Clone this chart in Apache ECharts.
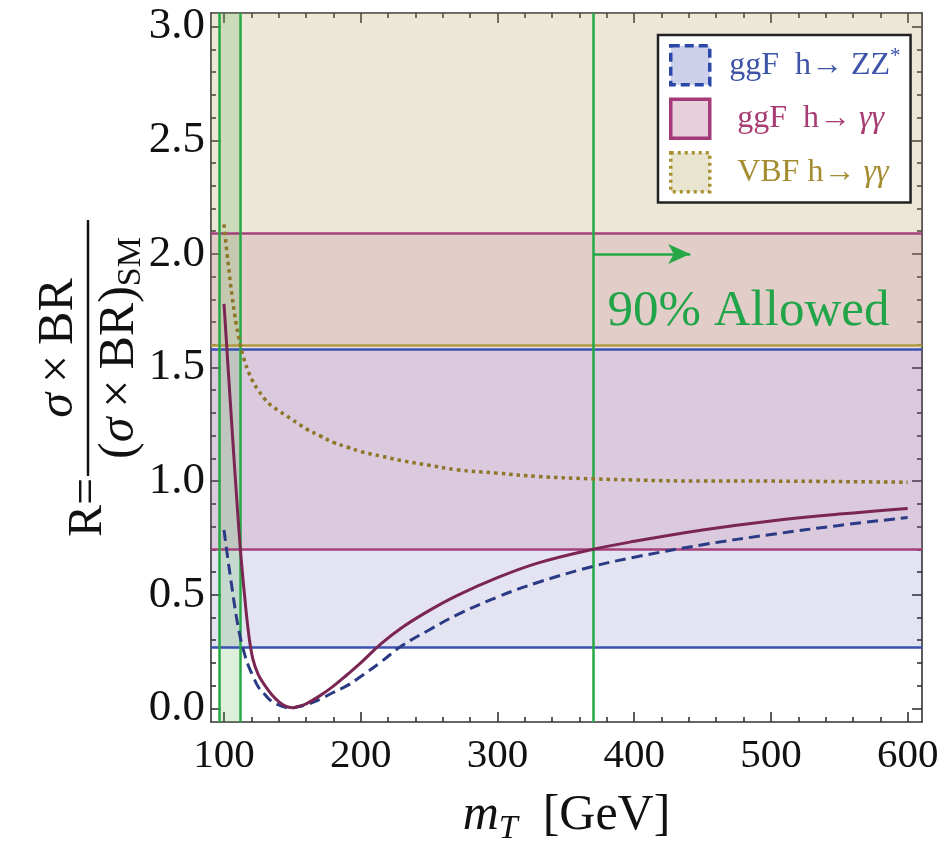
<!DOCTYPE html>
<html>
<head>
<meta charset="utf-8">
<script src="https://cdn.jsdelivr.net/npm/echarts@6/dist/echarts.min.js"></script>
<style>
html,body{margin:0;padding:0;background:#fff;}
#chart{width:951px;height:851px;}
</style>
</head>
<body>
<div id="chart"></div>
<script>
// ---------- data ----------
const mT = [100, 103, 106, 109, 112, 115, 118, 121, 125, 130, 135, 140, 145, 150, 155, 160, 170, 180, 190, 200, 215, 230, 250, 270, 300, 330, 370, 400, 450, 500, 550, 600];
const R_ggF_ZZ = [0.785, 0.65, 0.525, 0.405, 0.31, 0.24, 0.185, 0.145, 0.095, 0.06, 0.03, 0.015, 0.005, 0.003, 0.008, 0.015, 0.04, 0.07, 0.10, 0.14, 0.205, 0.275, 0.345, 0.41, 0.49, 0.555, 0.625, 0.665, 0.72, 0.765, 0.805, 0.84];
const R_ggF_AA = [1.78, 1.50, 1.22, 0.95, 0.70, 0.50, 0.33, 0.22, 0.15, 0.10, 0.06, 0.03, 0.01, 0.003, 0.01, 0.02, 0.055, 0.098, 0.148, 0.20, 0.285, 0.355, 0.43, 0.495, 0.575, 0.64, 0.70, 0.735, 0.785, 0.825, 0.855, 0.88];
const R_VBF_AA = [2.13, 1.96, 1.81, 1.69, 1.60, 1.53, 1.48, 1.44, 1.40, 1.36, 1.33, 1.31, 1.29, 1.27, 1.25, 1.23, 1.20, 1.17, 1.15, 1.13, 1.11, 1.09, 1.07, 1.05, 1.035, 1.02, 1.01, 1.005, 1.0, 1.0, 0.998, 0.995];

const xMin = 90.5, xMax = 610.5, yMin = -0.06, yMax = 3.06;
const xMajor = [100, 200, 300, 400, 500, 600];
const xMinor = [120, 140, 160, 180, 220, 240, 260, 280, 320, 340, 360, 380, 420, 440, 460, 480, 520, 540, 560, 580];
const yMajor = [0, 0.5, 1.0, 1.5, 2.0, 2.5, 3.0];
const yMinor = [0.1, 0.2, 0.3, 0.4, 0.6, 0.7, 0.8, 0.9, 1.1, 1.2, 1.3, 1.4, 1.6, 1.7, 1.8, 1.9, 2.1, 2.2, 2.3, 2.4, 2.6, 2.7, 2.8, 2.9];

const bandZZ = [0.27, 1.58];     // ggF h->ZZ*
const bandAA = [0.70, 2.09];     // ggF h->gamma gamma
const bandVBF = [1.60, yMax];    // VBF h->gamma gamma
const greenBand = [96.5, 112];
const allowedFrom = 370;
const arrowX = [370, 441];
const arrowY = 2.0;
const allowedLabel = [380.5, 1.745];

const names = ['ggF  h\u2192 ZZ*', 'ggF  h\u2192 \u03b3\u03b3', 'VBF h\u2192 \u03b3\u03b3'];

// ---------- helpers ----------
const pairs = (ys) => mT.map((x, i) => [x, ys[i]]);
const FONT = 'Liberation Serif';
const axisColor = '#333';

function xAx(pos, vals, len, labels) {
  return {
    type: 'value', position: pos, min: xMin, max: xMax, gridIndex: 0,
    axisLine: { show: labels !== null, onZero: false, lineStyle: { color: axisColor, width: 1.6 } },
    axisTick: { show: true, inside: true, length: len, customValues: vals, lineStyle: { color: axisColor, width: 1.6 } },
    axisLabel: labels ? { show: true, customValues: vals, fontFamily: FONT, fontSize: 41, color: '#111', margin: 14 } : { show: false },
    splitLine: { show: false }
  };
}
function yAx(pos, vals, len, labels) {
  return {
    type: 'value', position: pos, min: yMin, max: yMax, gridIndex: 0,
    axisLine: { show: labels !== null, onZero: false, lineStyle: { color: axisColor, width: 1.6 } },
    axisTick: { show: true, inside: true, length: len, customValues: vals, lineStyle: { color: axisColor, width: 1.6 } },
    axisLabel: labels ? { show: true, customValues: vals, fontFamily: FONT, fontSize: 45, color: '#111', margin: 6,
      formatter: v => v.toFixed(1) } : { show: false },
    splitLine: { show: false }
  };
}

const xAxes = [
  xAx('bottom', xMajor, 10, true),
  xAx('bottom', xMinor, 5, null),
  xAx('top', xMajor, 10, false),
  xAx('top', xMinor, 5, null)
];
xAxes[0].name = '{i|m}{sub|T}{r|\u2002[GeV]}';
xAxes[0].nameLocation = 'middle';
xAxes[0].nameGap = 64;
xAxes[0].nameTextStyle = {
  rich: {
    i: { fontFamily: FONT, fontStyle: 'italic', fontSize: 50, color: '#111', lineHeight: 60, verticalAlign: 'middle' },
    sub: { fontFamily: FONT, fontStyle: 'italic', fontSize: 34, color: '#111', lineHeight: 28, verticalAlign: 'bottom' },
    r: { fontFamily: FONT, fontSize: 50, color: '#111', lineHeight: 60, verticalAlign: 'middle' }
  }
};
const yAxes = [
  yAx('left', yMajor, 10, true),
  yAx('left', yMinor, 5, null),
  yAx('right', yMajor, 10, false),
  yAx('right', yMinor, 5, null)
];

const zzLine = '#3a50b2', aaLine = '#a4407a', vbfLine = '#b09a40', green = '#25a845';

const option = {
  backgroundColor: '#fff',
  animation: false,
  grid: { left: 211, right: 29, top: 13, bottom: 128, containLabel: false },
  xAxis: xAxes,
  yAxis: yAxes,
  legend: {
    orient: 'vertical', left: 658, top: 35,
    itemWidth: 39, itemHeight: 39, itemGap: 11,
    padding: [9, 10, 9, 11],
    backgroundColor: '#fff', borderColor: '#222', borderWidth: 2.5,
    textStyle: { fontFamily: FONT, fontSize: 32, lineHeight: 39,
      rich: { i: { fontFamily: FONT, fontStyle: 'italic', fontSize: 32, lineHeight: 39 }, sup: { fontFamily: FONT, fontSize: 21, verticalAlign: 'top', lineHeight: 34 } } },
    formatter: function (n) {
      if (n === names[0]) return ' \u2009ggF  h\u2192 ZZ{sup|*}';
      if (n === names[1]) return '\u2002\u2009ggF  h\u2192 {i|\u03b3\u03b3}';
      return '\u2002\u2009VBF h\u2192 {i|\u03b3\u03b3}';
    },
    data: [
      { name: names[0], icon: 'rect', itemStyle: { color: '#cdd0ea', borderColor: '#2b48a8', borderWidth: 3.5, borderType: [9, 5] }, textStyle: { color: '#3d54a8' } },
      { name: names[1], icon: 'rect', itemStyle: { color: '#e8cfdc', borderColor: '#a53a78', borderWidth: 3.5, borderType: 'solid' }, textStyle: { color: '#a83c72' } },
      { name: names[2], icon: 'rect', itemStyle: { color: '#e9e4cf', borderColor: '#a89030', borderWidth: 3.5, borderType: [3, 4] }, textStyle: { color: '#a48c30' } }
    ]
  },
  series: [
    // VBF band
    { type: 'line', name: 'bandVBF', data: [], z: 1, silent: true,
      markArea: { silent: true, itemStyle: { color: 'rgba(180,160,95,0.25)' }, data: [[{ yAxis: bandVBF[0] }, { yAxis: bandVBF[1] }]] },
      markLine: { silent: true, symbol: 'none', label: { show: false }, lineStyle: { color: vbfLine, width: 2.5, type: 'solid' }, data: [{ yAxis: bandVBF[0] }] } },
    // ZZ band
    { type: 'line', name: 'bandZZ', data: [], z: 1, silent: true,
      markArea: { silent: true, itemStyle: { color: 'rgba(70,70,170,0.15)' }, data: [[{ yAxis: bandZZ[0] }, { yAxis: bandZZ[1] }]] },
      markLine: { silent: true, symbol: 'none', label: { show: false }, lineStyle: { color: zzLine, width: 2.5, type: 'solid' }, data: [{ yAxis: bandZZ[0] }, { yAxis: bandZZ[1] }] } },
    // gamma gamma band
    { type: 'line', name: 'bandAA', data: [], z: 1, silent: true,
      markArea: { silent: true, itemStyle: { color: 'rgba(192,107,147,0.2)' }, data: [[{ yAxis: bandAA[0] }, { yAxis: bandAA[1] }]] },
      markLine: { silent: true, symbol: 'none', label: { show: false }, lineStyle: { color: aaLine, width: 2.5, type: 'solid' }, data: [{ yAxis: bandAA[0] }, { yAxis: bandAA[1] }] } },
    // allowed region (green)
    { type: 'line', name: 'allowed', data: [], z: 2, silent: true,
      markArea: { silent: true, itemStyle: { color: 'rgba(80,180,70,0.2)' }, data: [[{ xAxis: greenBand[0] }, { xAxis: greenBand[1] }]] },
      markLine: { silent: true, symbol: 'none', label: { show: false }, lineStyle: { color: green, width: 2.5, type: 'solid' },
        data: [
          { xAxis: greenBand[0] }, { xAxis: greenBand[1] }, { xAxis: allowedFrom },
          [{ coord: [arrowX[0], arrowY], symbol: 'none' }, { coord: [arrowX[1], arrowY], symbol: 'arrow', symbolSize: [15, 22] }]
        ] },
      markPoint: { silent: true, symbol: 'circle', symbolSize: 0,
        data: [{ coord: allowedLabel, label: { show: true, formatter: '90% Allowed', position: [0, 0], align: 'left', verticalAlign: 'middle',
          fontFamily: FONT, fontSize: 51, color: '#22a548' } }] } },
    // curves
    { type: 'line', name: names[2], data: pairs(R_VBF_AA), z: 5, smooth: 0.4, showSymbol: false, symbol: 'none',
      lineStyle: { color: '#8c7628', width: 3.5, type: [3.5, 4], cap: 'butt' }, itemStyle: { color: '#8c7628' } },
    { type: 'line', name: names[0], data: pairs(R_ggF_ZZ), z: 6, smooth: 0.4, showSymbol: false, symbol: 'none',
      lineStyle: { color: '#2a3a85', width: 3, type: [11, 6] }, itemStyle: { color: '#2a3a85' } },
    { type: 'line', name: names[1], data: pairs(R_ggF_AA), z: 7, smooth: 0.4, showSymbol: false, symbol: 'none',
      lineStyle: { color: '#7a2552', width: 3 }, itemStyle: { color: '#7a2552' } }
  ],
  graphic: [
    { type: 'group', x: 88, y: 348, rotation: Math.PI / 2,
      children: [
        { type: 'line', shape: { x1: -128, y1: 0, x2: 128, y2: 0 }, style: { stroke: '#111', lineWidth: 2.5 } },
        { type: 'text', style: { text: '{i|\u03c3}\u2009\u00d7\u2009BR', x: 0, y: -4, align: 'center', verticalAlign: 'bottom',
          font: '50px "Liberation Serif"', fill: '#111',
          rich: { i: { fontFamily: FONT, fontStyle: 'italic', fontSize: 50, fill: '#111' } } } },
        { type: 'text', style: { text: '({i|\u03c3}\u2009\u00d7\u2009BR){sub|SM}', x: 0, y: 4, align: 'center', verticalAlign: 'top',
          font: '50px "Liberation Serif"', fill: '#111',
          rich: { i: { fontFamily: FONT, fontStyle: 'italic', fontSize: 50, fill: '#111', lineHeight: 56, verticalAlign: 'middle' },
                  sub: { fontFamily: FONT, fontSize: 34, fill: '#111', lineHeight: 28, verticalAlign: 'bottom' } } } },
        { type: 'text', style: { text: 'R=', x: -130, y: 0, align: 'right', verticalAlign: 'middle', font: '48px "Liberation Serif"', fill: '#111' } }
      ] }
  ]
};

const chart = echarts.init(document.getElementById('chart'), null, { renderer: 'canvas' });
chart.setOption(option);
</script>
</body>
</html>
